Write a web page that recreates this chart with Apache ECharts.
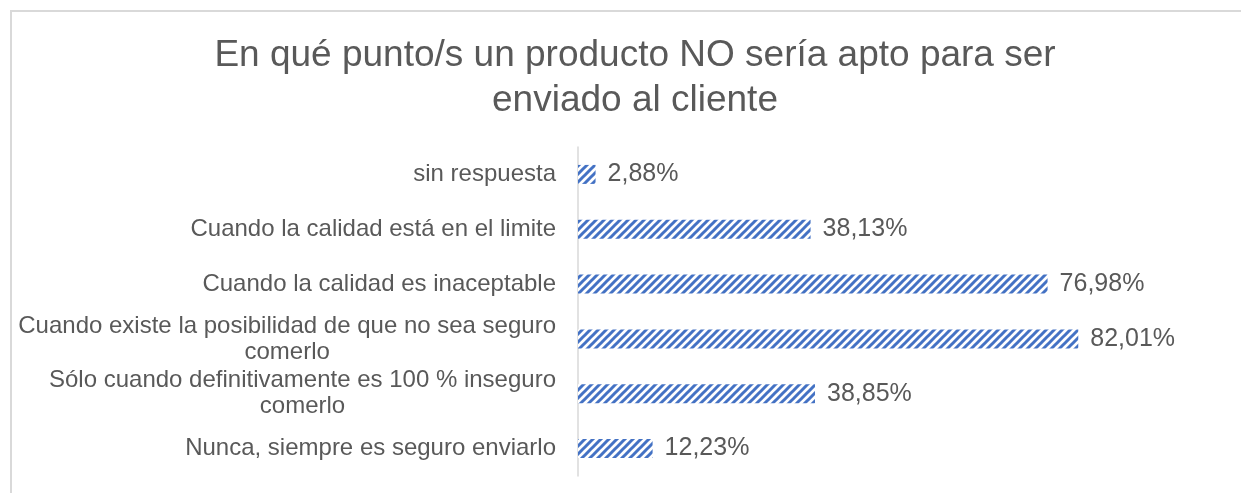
<!DOCTYPE html>
<html>
<head>
<meta charset="utf-8">
<script src="https://cdn.jsdelivr.net/npm/echarts@6/dist/echarts.min.js"></script>
<style>
  html, body { margin: 0; padding: 0; background: #fff; }
  #frame {
    position: absolute; left: 10px; top: 10px; width: 1300px; height: 600px;
    border-top: 2px solid #d9d9d9; border-left: 2px solid #d9d9d9;
  }
  #chart { position: absolute; left: 0; top: 0; width: 1241px; height: 493px; }
</style>
</head>
<body>
<div id="frame"></div>
<div id="chart"></div>
<script>
// categorías de arriba hacia abajo
const categories = [
  'sin respuesta',
  'Cuando la calidad está en el limite',
  'Cuando la calidad es inaceptable',
  'Cuando existe la posibilidad de que no sea seguro\ncomerlo',
  'Sólo cuando definitivamente es 100 % inseguro\ncomerlo',
  'Nunca, siempre es seguro enviarlo',
]
const values = [2.88, 38.13, 76.98, 82.01, 38.85, 12.23]

// trama de rayas diagonales (estilo Excel)
function stripePattern () {
  const c = document.createElement('canvas')
  c.width = 8
  c.height = 8
  const ctx = c.getContext('2d')
  ctx.fillStyle = '#ffffff'
  ctx.fillRect(0, 0, 8, 8)
  ctx.strokeStyle = '#4472C4'
  ctx.lineWidth = 3
  ctx.beginPath()
  ctx.moveTo(-2, 10); ctx.lineTo(10, -2)
  ctx.moveTo(-6, 6); ctx.lineTo(6, -6)
  ctx.moveTo(2, 14); ctx.lineTo(14, 2)
  ctx.stroke()
  return c
}

const chart = echarts.init(document.getElementById('chart'))
chart.setOption({
  animation: false,
  title: {
    text: 'En qué punto/s un producto NO sería apto para ser\nenviado al cliente',
    left: 630,
    top: 28,
    textAlign: 'center',
    textStyle: {
      fontFamily: 'Liberation Sans',
      fontSize: 37,
      fontWeight: 'normal',
      color: '#595959',
      lineHeight: 45,
      align: 'center',
    },
  },
  grid: { left: 578, right: 114, top: 147, bottom: 17, containLabel: false },
  xAxis: {
    type: 'value',
    min: 0,
    max: 90,
    show: false,
  },
  yAxis: {
    type: 'category',
    inverse: true,
    data: categories,
    axisLine: { lineStyle: { color: '#d9d9d9', width: 1.5 } },
    axisTick: { show: false },
    axisLabel: {
      margin: 22,
      align: 'right',
      fontFamily: 'Liberation Sans',
      fontSize: 24,
      color: '#595959',
      formatter: (v) => v.split('\n').map((s) => `{c|${s}}`).join('\n'),
      rich: {
        c: {
          fontFamily: 'Liberation Sans',
          fontSize: 24,
          color: '#595959',
          align: 'center',
          lineHeight: 26,
        },
      },
    },
  },
  series: [{
    type: 'bar',
    data: values,
    barWidth: 19,
    itemStyle: {
      color: { image: stripePattern(), repeat: 'repeat' },
    },
    label: {
      show: true,
      position: 'right',
      distance: 12,
      fontFamily: 'Liberation Sans',
      fontSize: 25,
      color: '#595959',
      formatter: (p) => p.value.toFixed(2).replace('.', ',') + '%',
    },
  }],
})
</script>
</body>
</html>
